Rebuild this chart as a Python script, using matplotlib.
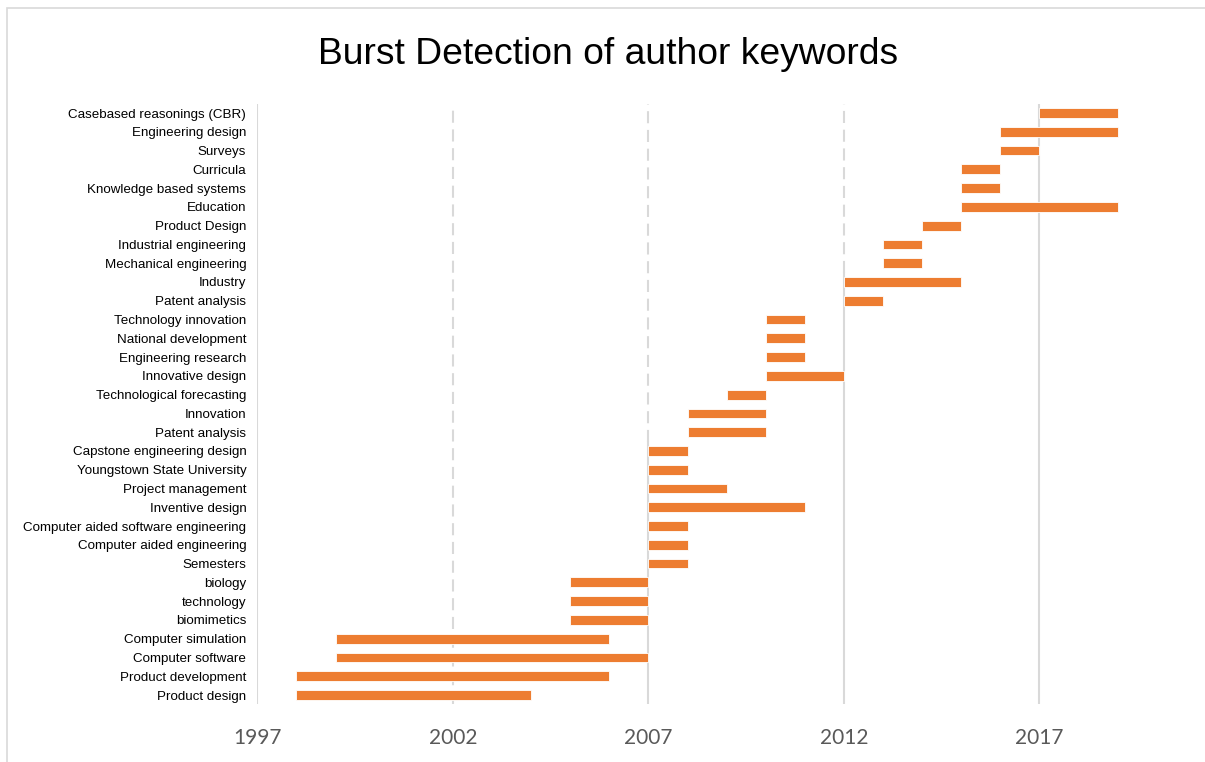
import matplotlib.pyplot as plt
from matplotlib.patches import Rectangle

# keywords listed top to bottom, with burst start/end years
keywords = ['Casebased reasonings (CBR)', 'Engineering design', 'Surveys', 'Curricula',
            'Knowledge based systems', 'Education', 'Product Design', 'Industrial engineering',
            'Mechanical engineering', 'Industry', 'Patent analysis', 'Technology innovation',
            'National development', 'Engineering research', 'Innovative design',
            'Technological forecasting', 'Innovation', 'Patent analysis',
            'Capstone engineering design', 'Youngstown State University', 'Project management',
            'Inventive design', 'Computer aided software engineering', 'Computer aided engineering',
            'Semesters', 'biology', 'technology', 'biomimetics', 'Computer simulation',
            'Computer software', 'Product development', 'Product design']
begin = [2017, 2016, 2016, 2015, 2015, 2015, 2014, 2013, 2013, 2012, 2012, 2010, 2010, 2010,
         2010, 2009, 2008, 2008, 2007, 2007, 2007, 2007, 2007, 2007, 2007, 2005, 2005, 2005,
         1999, 1999, 1998, 1998]
end = [2019, 2019, 2017, 2016, 2016, 2019, 2015, 2014, 2014, 2015, 2013, 2011, 2011, 2011,
       2012, 2010, 2010, 2010, 2008, 2008, 2009, 2011, 2008, 2008, 2008, 2007, 2007, 2007,
       2006, 2007, 2006, 2004]
year_ticks = [1997, 2002, 2007, 2012, 2017]

fig = plt.figure(figsize=(12.05, 7.62), dpi=100)
ax = fig.add_axes([0.2136, 0.0756, 0.7788, 0.7884])

n = len(keywords)
ypos = [n - 1 - i for i in range(n)]
widths = [e - b for b, e in zip(begin, end)]
ax.barh(ypos, widths, left=begin, height=0.52, color='#ed7d31',
        edgecolor='white', linewidth=0.6, zorder=3)

ax.set_xlim(1997, 2021)
ax.set_ylim(-0.5, n - 0.5)
ax.set_yticks(ypos)
ax.set_yticklabels(keywords, fontsize=9.6, family='Liberation Sans')
ax.set_xticks(year_ticks)
ax.set_xticklabels([str(y) for y in year_ticks], fontsize=15, color='#595959', family='Lato')
ax.tick_params(length=0)
ax.tick_params(axis='x', pad=17)
ax.tick_params(axis='y', pad=8)

for s in ax.spines.values():
    s.set_visible(False)

# dashed gridlines; they turn solid below the first burst starting on that year
grid = '#d9d9d9'
ax.axvline(1997, color=grid, lw=1.5, zorder=1)
for y in year_ticks[1:]:
    starts = [p for p, b in zip(ypos, begin) if b == y]
    if starts:
        top = max(starts) + 0.5
        ax.plot([y, y], [-0.5, top], color=grid, lw=1.5, zorder=1)
        if top < n - 0.5:
            ax.plot([y, y], [top, n - 0.5], color=grid, lw=1.5, ls=(0, (5.8, 3.2)), zorder=1)
    else:
        ax.axvline(y, color=grid, lw=1.5, ls=(0, (5.8, 3.2)), zorder=1)

fig.text(0.505, 0.929, 'Burst Detection of author keywords', ha='center', va='center',
         fontsize=26.8, family='Liberation Sans')

fig.patches.append(Rectangle((6.5 / 1205, -0.1), 1.2, 1 - 8 / 762 + 0.1,
                             transform=fig.transFigure, fill=False,
                             edgecolor='#d9d9d9', lw=1.2))

fig.savefig('out.png', dpi=100)
